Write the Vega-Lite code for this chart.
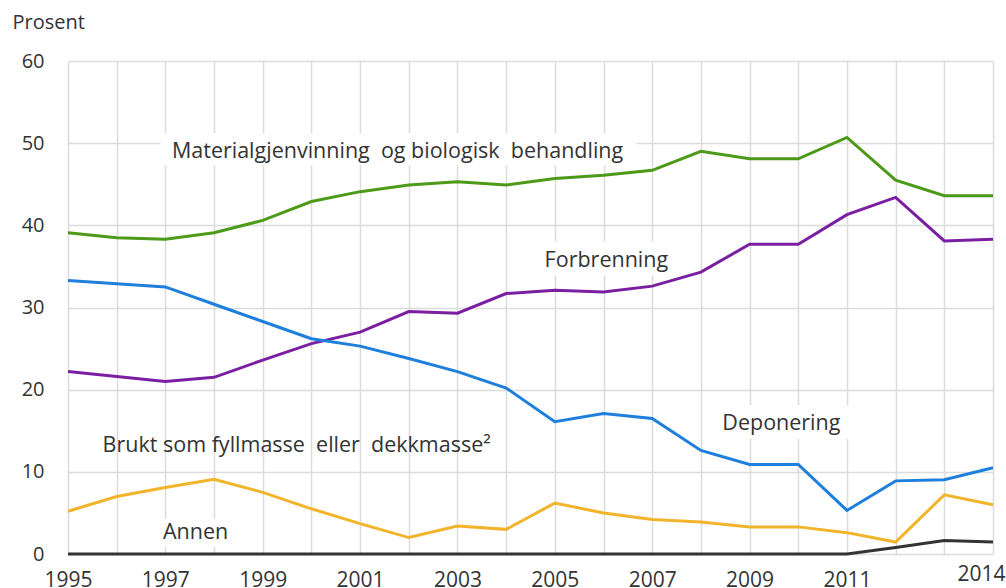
{
  "$schema": "https://vega.github.io/schema/vega-lite/v6.json",
  "width": 925,
  "height": 493,
  "autosize": "none",
  "padding": {"left": 68, "top": 61, "right": 13, "bottom": 34},
  "background": "white",
  "config": {
    "view": {"stroke": null},
    "font": "Open Sans",
    "axis": {"labelFont": "Open Sans", "titleFont": "Open Sans", "labelColor": "#333", "titleColor": "#333", "gridColor": "#dcdcdc", "gridWidth": 1.5}
  },
  "datasets": {
    "series": [
      {"year": 1995, "series": "Materialgjenvinning og biologisk behandling", "value": 39.1},
      {"year": 1996, "series": "Materialgjenvinning og biologisk behandling", "value": 38.5},
      {"year": 1997, "series": "Materialgjenvinning og biologisk behandling", "value": 38.3},
      {"year": 1998, "series": "Materialgjenvinning og biologisk behandling", "value": 39.1},
      {"year": 1999, "series": "Materialgjenvinning og biologisk behandling", "value": 40.6},
      {"year": 2000, "series": "Materialgjenvinning og biologisk behandling", "value": 42.9},
      {"year": 2001, "series": "Materialgjenvinning og biologisk behandling", "value": 44.1},
      {"year": 2002, "series": "Materialgjenvinning og biologisk behandling", "value": 44.9},
      {"year": 2003, "series": "Materialgjenvinning og biologisk behandling", "value": 45.3},
      {"year": 2004, "series": "Materialgjenvinning og biologisk behandling", "value": 44.9},
      {"year": 2005, "series": "Materialgjenvinning og biologisk behandling", "value": 45.7},
      {"year": 2006, "series": "Materialgjenvinning og biologisk behandling", "value": 46.1},
      {"year": 2007, "series": "Materialgjenvinning og biologisk behandling", "value": 46.7},
      {"year": 2008, "series": "Materialgjenvinning og biologisk behandling", "value": 49.0},
      {"year": 2009, "series": "Materialgjenvinning og biologisk behandling", "value": 48.1},
      {"year": 2010, "series": "Materialgjenvinning og biologisk behandling", "value": 48.1},
      {"year": 2011, "series": "Materialgjenvinning og biologisk behandling", "value": 50.7},
      {"year": 2012, "series": "Materialgjenvinning og biologisk behandling", "value": 45.5},
      {"year": 2013, "series": "Materialgjenvinning og biologisk behandling", "value": 43.6},
      {"year": 2014, "series": "Materialgjenvinning og biologisk behandling", "value": 43.6},
      {"year": 1995, "series": "Forbrenning", "value": 22.2},
      {"year": 1996, "series": "Forbrenning", "value": 21.6},
      {"year": 1997, "series": "Forbrenning", "value": 21.0},
      {"year": 1998, "series": "Forbrenning", "value": 21.5},
      {"year": 1999, "series": "Forbrenning", "value": 23.6},
      {"year": 2000, "series": "Forbrenning", "value": 25.6},
      {"year": 2001, "series": "Forbrenning", "value": 27.0},
      {"year": 2002, "series": "Forbrenning", "value": 29.5},
      {"year": 2003, "series": "Forbrenning", "value": 29.3},
      {"year": 2004, "series": "Forbrenning", "value": 31.7},
      {"year": 2005, "series": "Forbrenning", "value": 32.1},
      {"year": 2006, "series": "Forbrenning", "value": 31.9},
      {"year": 2007, "series": "Forbrenning", "value": 32.6},
      {"year": 2008, "series": "Forbrenning", "value": 34.3},
      {"year": 2009, "series": "Forbrenning", "value": 37.7},
      {"year": 2010, "series": "Forbrenning", "value": 37.7},
      {"year": 2011, "series": "Forbrenning", "value": 41.3},
      {"year": 2012, "series": "Forbrenning", "value": 43.4},
      {"year": 2013, "series": "Forbrenning", "value": 38.1},
      {"year": 2014, "series": "Forbrenning", "value": 38.3},
      {"year": 1995, "series": "Deponering", "value": 33.3},
      {"year": 1996, "series": "Deponering", "value": 32.9},
      {"year": 1997, "series": "Deponering", "value": 32.5},
      {"year": 1998, "series": "Deponering", "value": 30.4},
      {"year": 1999, "series": "Deponering", "value": 28.3},
      {"year": 2000, "series": "Deponering", "value": 26.2},
      {"year": 2001, "series": "Deponering", "value": 25.3},
      {"year": 2002, "series": "Deponering", "value": 23.8},
      {"year": 2003, "series": "Deponering", "value": 22.2},
      {"year": 2004, "series": "Deponering", "value": 20.2},
      {"year": 2005, "series": "Deponering", "value": 16.1},
      {"year": 2006, "series": "Deponering", "value": 17.1},
      {"year": 2007, "series": "Deponering", "value": 16.5},
      {"year": 2008, "series": "Deponering", "value": 12.6},
      {"year": 2009, "series": "Deponering", "value": 10.9},
      {"year": 2010, "series": "Deponering", "value": 10.9},
      {"year": 2011, "series": "Deponering", "value": 5.3},
      {"year": 2012, "series": "Deponering", "value": 8.9},
      {"year": 2013, "series": "Deponering", "value": 9.05},
      {"year": 2014, "series": "Deponering", "value": 10.5},
      {"year": 1995, "series": "Brukt som fyllmasse eller dekkmasse", "value": 5.2},
      {"year": 1996, "series": "Brukt som fyllmasse eller dekkmasse", "value": 7.0},
      {"year": 1997, "series": "Brukt som fyllmasse eller dekkmasse", "value": 8.1},
      {"year": 1998, "series": "Brukt som fyllmasse eller dekkmasse", "value": 9.1},
      {"year": 1999, "series": "Brukt som fyllmasse eller dekkmasse", "value": 7.5},
      {"year": 2000, "series": "Brukt som fyllmasse eller dekkmasse", "value": 5.5},
      {"year": 2001, "series": "Brukt som fyllmasse eller dekkmasse", "value": 3.7},
      {"year": 2002, "series": "Brukt som fyllmasse eller dekkmasse", "value": 2.0},
      {"year": 2003, "series": "Brukt som fyllmasse eller dekkmasse", "value": 3.4},
      {"year": 2004, "series": "Brukt som fyllmasse eller dekkmasse", "value": 3.0},
      {"year": 2005, "series": "Brukt som fyllmasse eller dekkmasse", "value": 6.2},
      {"year": 2006, "series": "Brukt som fyllmasse eller dekkmasse", "value": 5.0},
      {"year": 2007, "series": "Brukt som fyllmasse eller dekkmasse", "value": 4.2},
      {"year": 2008, "series": "Brukt som fyllmasse eller dekkmasse", "value": 3.9},
      {"year": 2009, "series": "Brukt som fyllmasse eller dekkmasse", "value": 3.3},
      {"year": 2010, "series": "Brukt som fyllmasse eller dekkmasse", "value": 3.3},
      {"year": 2011, "series": "Brukt som fyllmasse eller dekkmasse", "value": 2.6},
      {"year": 2012, "series": "Brukt som fyllmasse eller dekkmasse", "value": 1.45},
      {"year": 2013, "series": "Brukt som fyllmasse eller dekkmasse", "value": 7.2},
      {"year": 2014, "series": "Brukt som fyllmasse eller dekkmasse", "value": 6.0},
      {"year": 1995, "series": "Annen", "value": 0},
      {"year": 1996, "series": "Annen", "value": 0},
      {"year": 1997, "series": "Annen", "value": 0},
      {"year": 1998, "series": "Annen", "value": 0},
      {"year": 1999, "series": "Annen", "value": 0},
      {"year": 2000, "series": "Annen", "value": 0},
      {"year": 2001, "series": "Annen", "value": 0},
      {"year": 2002, "series": "Annen", "value": 0},
      {"year": 2003, "series": "Annen", "value": 0},
      {"year": 2004, "series": "Annen", "value": 0},
      {"year": 2005, "series": "Annen", "value": 0},
      {"year": 2006, "series": "Annen", "value": 0},
      {"year": 2007, "series": "Annen", "value": 0},
      {"year": 2008, "series": "Annen", "value": 0},
      {"year": 2009, "series": "Annen", "value": 0},
      {"year": 2010, "series": "Annen", "value": 0},
      {"year": 2011, "series": "Annen", "value": 0},
      {"year": 2012, "series": "Annen", "value": 0.78},
      {"year": 2013, "series": "Annen", "value": 1.65},
      {"year": 2014, "series": "Annen", "value": 1.45}
    ],
    "boxes": [
      {"x": 1996.9, "x2": 2006.68, "y": 47.3, "y2": 51.2},
      {"x": 2004.6, "x2": 2007.5, "y": 33.9, "y2": 38.0},
      {"x": 2008.24, "x2": 2011.1, "y": 14.0, "y2": 18.1},
      {"x": 1996.8, "x2": 1998.55, "y": 0.9, "y2": 4.3}
    ],
    "labels": [
      {"x": 1997.135, "y": 48.15, "text": "Materialgjenvinning\u00a0 og biologisk\u00a0 behandling"},
      {"x": 2004.79, "y": 34.95, "text": "Forbrenning"},
      {"x": 2008.44, "y": 15.05, "text": "Deponering"},
      {"x": 1995.71, "y": 12.41, "text": "Brukt som fyllmasse\u00a0 eller\u00a0 dekkmasse²"},
      {"x": 1996.95, "y": 1.78, "text": "Annen"}
    ]
  },
  "layer": [
    {
      "data": {"name": "boxes"},
      "mark": {"type": "rect", "color": "white"},
      "encoding": {
        "x": {"field": "x", "type": "quantitative", "scale": {"domain": [1995, 2014], "nice": false, "zero": false},
          "axis": {
            "values": [1995, 1996, 1997, 1998, 1999, 2000, 2001, 2002, 2003, 2004, 2005, 2006, 2007, 2008, 2009, 2010, 2011, 2012, 2013, 2014],
            "labelExpr": "((datum.value % 2 == 1 && datum.value <= 2011) || datum.value == 2014) ? datum.value + '' : ''",
            "title": null, "domain": false, "ticks": false, "labelFontSize": 21,
            "labelPadding": {"condition": {"test": "datum.value == 2014", "value": 20}, "value": 26},
            "labelOffset": {"condition": {"test": "datum.value == 2014", "value": -12}, "value": 0},
            "labelBaseline": "middle",
            "labelBound": false, "labelOverlap": false, "labelFlush": false
          }},
        "x2": {"field": "x2"},
        "y": {"field": "y", "type": "quantitative", "scale": {"domain": [0, 60], "nice": false},
          "axis": {
            "values": [0, 10, 20, 30, 40, 50, 60], "title": "Prosent", "titleAngle": 0, "titleAlign": "left",
            "titleBaseline": "alphabetic", "titleX": -56, "titleY": -33, "titleFontSize": 20, "titleFontWeight": "normal",
            "domain": false, "ticks": false, "labelFontSize": 20, "labelPadding": 24
          }},
        "y2": {"field": "y2"}
      }
    },
    {
      "data": {"name": "series"},
      "mark": {"type": "line", "strokeWidth": 3},
      "encoding": {
        "x": {"field": "year", "type": "quantitative"},
        "y": {"field": "value", "type": "quantitative"},
        "color": {"field": "series", "type": "nominal", "legend": null,
          "scale": {"domain": ["Materialgjenvinning og biologisk behandling", "Forbrenning", "Deponering", "Brukt som fyllmasse eller dekkmasse", "Annen"],
                    "range": ["#4d9a18", "#7b1fa2", "#1e7fdc", "#f1b42b", "#333333"]}}
      }
    },
    {
      "data": {"name": "labels"},
      "mark": {"type": "text", "align": "left", "baseline": "alphabetic", "fontSize": 21.5, "color": "#333", "font": "Open Sans"},
      "encoding": {
        "x": {"field": "x", "type": "quantitative"},
        "y": {"field": "y", "type": "quantitative"},
        "text": {"field": "text"}
      }
    }
  ]
}
